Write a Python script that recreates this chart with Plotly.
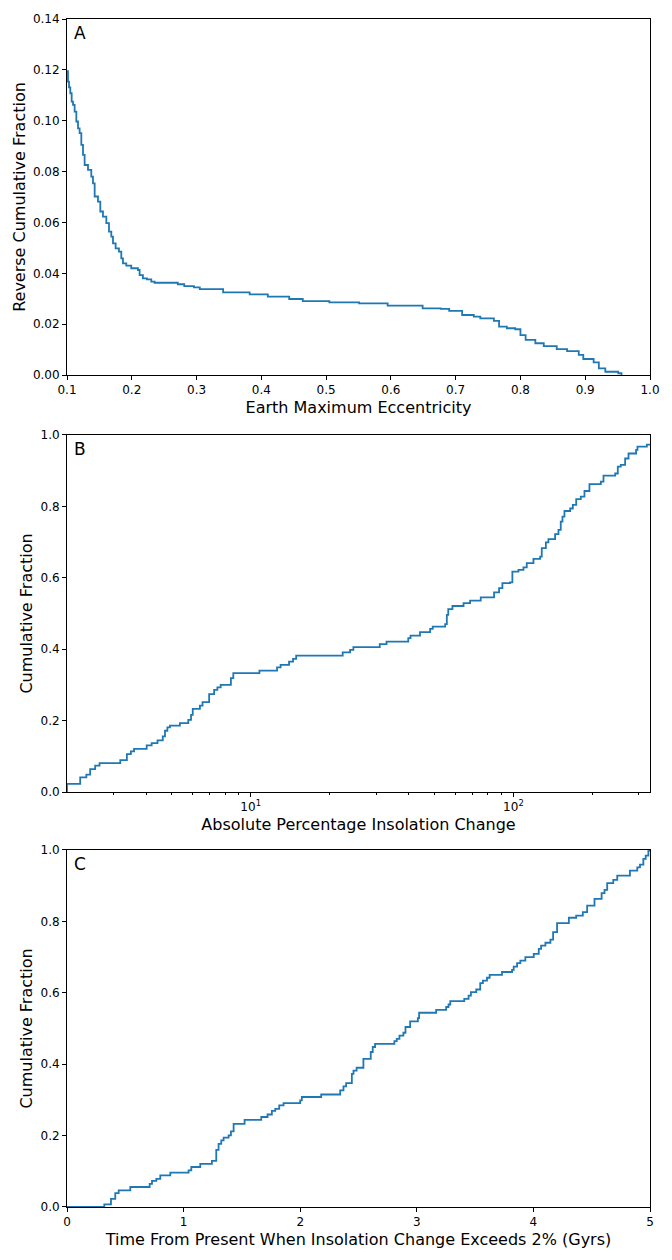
import plotly.graph_objects as go
import math

# Panel A: Earth maximum eccentricity vs reverse cumulative fraction
ecc_x = [0.100, 0.1015, 0.1031, 0.1051, 0.1072, 0.1093, 0.1118, 0.1144, 0.1170, 0.1195,
         0.1221, 0.1247, 0.1272, 0.1324, 0.1375, 0.1401, 0.1427, 0.1478, 0.1514, 0.1555,
         0.1607, 0.1648, 0.1684, 0.1710, 0.1751, 0.1802, 0.1838, 0.1864, 0.1915, 0.1992,
         0.2095, 0.2121, 0.2172, 0.2234, 0.2301, 0.2352, 0.271, 0.281, 0.296, 0.305, 0.341,
         0.382, 0.410, 0.443, 0.464, 0.505, 0.551, 0.595, 0.649, 0.677, 0.690,
         0.710, 0.728, 0.738, 0.759, 0.767, 0.779, 0.792, 0.800, 0.808, 0.823,
         0.836, 0.856, 0.872, 0.890, 0.897, 0.913, 0.921, 0.931, 0.951, 0.956]
ecc_y = [0.1195, 0.1154, 0.1131, 0.1108, 0.1075, 0.1062, 0.1036, 0.0997, 0.0970, 0.0951,
         0.0905, 0.0866, 0.0826, 0.0807, 0.0780, 0.0754, 0.0702, 0.0682, 0.0643, 0.0623,
         0.0597, 0.0564, 0.0544, 0.0518, 0.0498, 0.0485, 0.0459, 0.0439, 0.0430, 0.0420,
         0.0413, 0.0393, 0.0380, 0.0376, 0.0367, 0.0363, 0.0357, 0.0350, 0.0345, 0.0338, 0.0325,
         0.0317, 0.0308, 0.0299, 0.0291, 0.0286, 0.0282, 0.0273, 0.0262, 0.0260, 0.0252,
         0.0236, 0.0230, 0.0223, 0.0213, 0.0190, 0.0184, 0.0180, 0.0157, 0.0138, 0.0125,
         0.0114, 0.0102, 0.0094, 0.0079, 0.0063, 0.0050, 0.0026, 0.0013, 0.0007, 0.0]

# Panel B: absolute percentage insolation change vs cumulative fraction
ins_x = [2.0, 2.0, 2.245, 2.37, 2.45, 2.56, 2.66, 3.19, 3.38, 3.50, 3.60, 4.02, 4.20,
         4.42, 4.63, 4.72, 4.82, 4.93, 5.38, 5.79, 5.93, 6.02, 6.41, 6.56, 6.95,
         7.26, 7.47, 7.69, 8.41, 8.59, 10.8, 12.6, 13.0, 14.0, 14.5, 14.9, 22.4,
         23.9, 24.6, 31.0, 32.9, 39.8, 40.6, 44.1, 48.2, 49.3, 55.0, 55.8, 56.5,
         58.6, 64.6, 68.4, 75.1, 84.4, 88.2, 90.8, 97.1, 99.1, 104.5, 109.2, 112.4,
         119.2, 126.4, 128.2, 132.9, 135.9, 144.1, 148.4, 151.4, 153.7, 156.4, 164.4,
         168.3, 173.4, 180.5, 186.4, 194.7, 215.1, 220.2, 244.0, 249.6, 256.2, 266.2,
         274.2, 293.0, 296.6, 322.0, 331.0]
ins_y = [0.0, 0.023, 0.041, 0.0485, 0.064, 0.074, 0.081, 0.0895, 0.106, 0.114, 0.121, 0.1305, 0.137,
         0.1445, 0.156, 0.1716, 0.181, 0.186, 0.193, 0.202, 0.216, 0.233, 0.242, 0.252, 0.274,
         0.286, 0.293, 0.300, 0.319, 0.333, 0.340, 0.349, 0.356, 0.365, 0.373, 0.382, 0.391,
         0.398, 0.406, 0.414, 0.421, 0.431, 0.438, 0.448, 0.457, 0.463, 0.470, 0.496, 0.512,
         0.521, 0.529, 0.536, 0.545, 0.559, 0.571, 0.585, 0.587, 0.617, 0.622, 0.629, 0.641,
         0.653, 0.659, 0.683, 0.699, 0.708, 0.722, 0.734, 0.757, 0.771, 0.787, 0.794,
         0.804, 0.820, 0.827, 0.843, 0.862, 0.869, 0.886, 0.892, 0.911, 0.916, 0.934,
         0.948, 0.958, 0.967, 0.973, 0.975]

# Panel C: time from present when insolation change exceeds 2% vs cumulative fraction
time_x = [0.0, 0.32, 0.377, 0.414, 0.443, 0.543, 0.709, 0.729, 0.766, 0.800, 0.886,
          1.043, 1.066, 1.143, 1.243, 1.280, 1.300, 1.323, 1.343, 1.386, 1.406, 1.429,
          1.523, 1.666, 1.720, 1.757, 1.786, 1.820, 1.857, 2.000, 2.014, 2.180, 2.343,
          2.371, 2.394, 2.443, 2.457, 2.484, 2.542, 2.605, 2.622, 2.642, 2.808, 2.828,
          2.851, 2.885, 2.903, 2.943, 3.009, 3.020, 3.166, 3.252, 3.272, 3.287, 3.407,
          3.444, 3.464, 3.510, 3.544, 3.567, 3.602, 3.625, 3.731, 3.817, 3.831, 3.860,
          3.888, 3.931, 4.003, 4.046, 4.066, 4.103, 4.146, 4.169, 4.203, 4.304, 4.367,
          4.424, 4.461, 4.524, 4.585, 4.610, 4.633, 4.685, 4.719, 4.828, 4.891, 4.914,
          4.943, 4.963, 4.986, 5.0]
time_y = [0.0, 0.0075, 0.023, 0.039, 0.0466, 0.056, 0.065, 0.073, 0.079, 0.0886, 0.096,
          0.1026, 0.112, 0.121, 0.129, 0.160, 0.177, 0.1866, 0.194, 0.2006, 0.212, 0.233,
          0.244, 0.252, 0.259, 0.269, 0.275, 0.2845, 0.291, 0.2985, 0.308, 0.315, 0.3265,
          0.338, 0.347, 0.373, 0.382, 0.390, 0.415, 0.434, 0.448, 0.457, 0.4646, 0.471,
          0.480, 0.488, 0.504, 0.520, 0.529, 0.544, 0.552, 0.560, 0.567, 0.5765, 0.583,
          0.592, 0.6017, 0.609, 0.627, 0.634, 0.642, 0.650, 0.658, 0.664, 0.673, 0.683,
          0.690, 0.6996, 0.709, 0.723, 0.732, 0.740, 0.749, 0.770, 0.795, 0.810, 0.816,
          0.8256, 0.844, 0.863, 0.879, 0.888, 0.907, 0.916, 0.928, 0.942, 0.951, 0.959,
          0.975, 0.984, 0.998, 1.0]

ecc_ticks = [0.1, 0.2, 0.3, 0.4, 0.5, 0.6, 0.7, 0.8, 0.9, 1.0]
frac_ticks_a = [0.0, 0.02, 0.04, 0.06, 0.08, 0.10, 0.12, 0.14]
frac_ticks = [0.0, 0.2, 0.4, 0.6, 0.8, 1.0]
log_major = [10, 100]
log_major_text = ["10<sup>1</sup>", "10<sup>2</sup>"]
log_minor = [3, 4, 5, 6, 7, 8, 9, 20, 30, 40, 50, 60, 70, 80, 90, 200, 300]
time_ticks = [0, 1, 2, 3, 4, 5]

COLOR = "#1f77b4"
FONT = "DejaVu Sans"

fig = go.Figure()
line = dict(color=COLOR, width=1.8, shape="hv")
fig.add_trace(go.Scatter(x=ecc_x, y=ecc_y, mode="lines", line=line, xaxis="x", yaxis="y", showlegend=False))
fig.add_trace(go.Scatter(x=ins_x, y=ins_y, mode="lines", line=line, xaxis="x2", yaxis="y2", showlegend=False))
fig.add_trace(go.Scatter(x=time_x, y=time_y, mode="lines", line=line, xaxis="x3", yaxis="y3", showlegend=False))

common = dict(showline=True, mirror=True, linecolor="black", linewidth=1,
              ticks="outside", ticklen=4, tickwidth=1, tickcolor="black",
              showgrid=False, zeroline=False,
              tickfont=dict(family=FONT, size=12, color="black"))
title_font = dict(family=FONT, size=16, color="black")

fig.update_layout(
    width=672, height=1260,
    margin=dict(l=67, r=22, t=16, b=53),
    paper_bgcolor="white", plot_bgcolor="white",
    font=dict(family=FONT, color="black"),
    xaxis=dict(domain=[0, 1], anchor="y", range=[0.1, 1.0], tickvals=ecc_ticks,
               tickformat=".1f",
               title=dict(text="Earth Maximum Eccentricity", font=title_font, standoff=5), **common),
    yaxis=dict(domain=[0.7003, 1.0], anchor="x", range=[0, 0.14], tickvals=frac_ticks_a,
               tickformat=".2f",
               title=dict(text="Reverse Cumulative Fraction", font=title_font, standoff=3), **common),
    xaxis2=dict(domain=[0, 1], anchor="y2", type="log", range=[math.log10(2), math.log10(331)],
                tickvals=log_major, ticktext=log_major_text,
                minor=dict(tickvals=log_minor, ticks="outside", ticklen=2, tickwidth=0.8, tickcolor="black"),
                title=dict(text="Absolute Percentage Insolation Change", font=title_font, standoff=5), **common),
    yaxis2=dict(domain=[0.3493, 0.6499], anchor="x2", range=[0, 1], tickvals=frac_ticks,
                tickformat=".1f",
                title=dict(text="Cumulative Fraction", font=title_font, standoff=3), **common),
    xaxis3=dict(domain=[0, 1], anchor="y3", range=[0, 5], tickvals=time_ticks,
                title=dict(text="Time From Present When Insolation Change Exceeds 2% (Gyrs)", font=title_font, standoff=5), **common),
    yaxis3=dict(domain=[0.0, 0.3006], anchor="x3", range=[0, 1], tickvals=frac_ticks,
                tickformat=".1f",
                title=dict(text="Cumulative Fraction", font=title_font, standoff=3), **common),
)

for lab, xr, yr in [("A", "x domain", "y domain"), ("B", "x2 domain", "y2 domain"), ("C", "x3 domain", "y3 domain")]:
    fig.add_annotation(text=lab, xref=xr, yref=yr, x=0.008, y=0.993, xanchor="left", yanchor="top",
                       showarrow=False, font=dict(family=FONT, size=17, color="black"))

fig.write_html("out.html", config={"displayModeBar": False},
               post_script="document.body.style.margin='0';document.body.style.padding='0';")
